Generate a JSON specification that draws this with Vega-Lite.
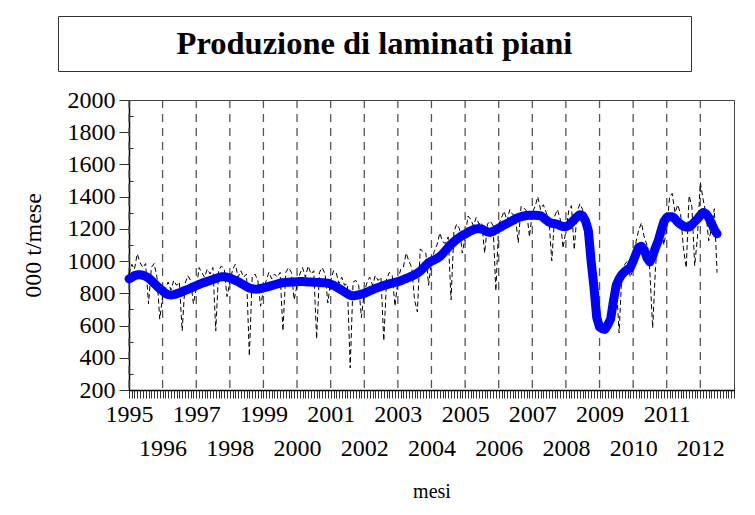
{
  "$schema": "https://vega.github.io/schema/vega-lite/v6.json",
  "background": "white",
  "padding": {"left": 17, "top": 15, "right": 5, "bottom": 5},
  "autosize": {"type": "pad"},
  "config": {"view": {"stroke": null}, "font": "Liberation Serif"},
  "spacing": 15,
  "datasets": {
    "years": [
      {"d": "1995-01-01"}, {"d": "1996-01-01"}, {"d": "1997-01-01"}, {"d": "1998-01-01"}, {"d": "1999-01-01"}, {"d": "2000-01-01"},
      {"d": "2001-01-01"}, {"d": "2002-01-01"}, {"d": "2003-01-01"}, {"d": "2004-01-01"}, {"d": "2005-01-01"}, {"d": "2006-01-01"},
      {"d": "2007-01-01"}, {"d": "2008-01-01"}, {"d": "2009-01-01"}, {"d": "2010-01-01"}, {"d": "2011-01-01"}, {"d": "2012-01-01"}
    ],
    "blank": [{"t": ""}],
    "series": [
      {"d":"1995-01-01","v":920,"t":890},{"d":"1995-02-01","v":980,"t":900},{"d":"1995-03-01","v":950,"t":910},{"d":"1995-04-01","v":1045,"t":915},{"d":"1995-05-01","v":990,"t":915},{"d":"1995-06-01","v":960,"t":912},{"d":"1995-07-01","v":985,"t":905},{"d":"1995-08-01","v":735,"t":895},{"d":"1995-09-01","v":960,"t":880},{"d":"1995-10-01","v":985,"t":862},{"d":"1995-11-01","v":900,"t":845},{"d":"1995-12-01","v":640,"t":830},
      {"d":"1996-01-01","v":780,"t":815},{"d":"1996-02-01","v":830,"t":800},{"d":"1996-03-01","v":870,"t":792},{"d":"1996-04-01","v":820,"t":790},{"d":"1996-05-01","v":880,"t":792},{"d":"1996-06-01","v":850,"t":797},{"d":"1996-07-01","v":870,"t":803},{"d":"1996-08-01","v":567,"t":810},{"d":"1996-09-01","v":860,"t":818},{"d":"1996-10-01","v":910,"t":825},{"d":"1996-11-01","v":880,"t":832},{"d":"1996-12-01","v":735,"t":840},
      {"d":"1997-01-01","v":830,"t":848},{"d":"1997-02-01","v":960,"t":855},{"d":"1997-03-01","v":930,"t":862},{"d":"1997-04-01","v":900,"t":868},{"d":"1997-05-01","v":950,"t":874},{"d":"1997-06-01","v":920,"t":880},{"d":"1997-07-01","v":960,"t":886},{"d":"1997-08-01","v":567,"t":892},{"d":"1997-09-01","v":940,"t":898},{"d":"1997-10-01","v":970,"t":903},{"d":"1997-11-01","v":950,"t":903},{"d":"1997-12-01","v":780,"t":900},
      {"d":"1998-01-01","v":870,"t":895},{"d":"1998-02-01","v":950,"t":888},{"d":"1998-03-01","v":980,"t":880},{"d":"1998-04-01","v":900,"t":872},{"d":"1998-05-01","v":940,"t":862},{"d":"1998-06-01","v":900,"t":852},{"d":"1998-07-01","v":920,"t":842},{"d":"1998-08-01","v":411,"t":833},{"d":"1998-09-01","v":900,"t":828},{"d":"1998-10-01","v":920,"t":826},{"d":"1998-11-01","v":880,"t":827},{"d":"1998-12-01","v":720,"t":830},
      {"d":"1999-01-01","v":820,"t":834},{"d":"1999-02-01","v":880,"t":838},{"d":"1999-03-01","v":930,"t":843},{"d":"1999-04-01","v":890,"t":848},{"d":"1999-05-01","v":920,"t":853},{"d":"1999-06-01","v":900,"t":858},{"d":"1999-07-01","v":930,"t":863},{"d":"1999-08-01","v":567,"t":866},{"d":"1999-09-01","v":930,"t":868},{"d":"1999-10-01","v":960,"t":869},{"d":"1999-11-01","v":930,"t":870},{"d":"1999-12-01","v":760,"t":871},
      {"d":"2000-01-01","v":850,"t":872},{"d":"2000-02-01","v":920,"t":873},{"d":"2000-03-01","v":960,"t":873},{"d":"2000-04-01","v":900,"t":872},{"d":"2000-05-01","v":970,"t":871},{"d":"2000-06-01","v":920,"t":870},{"d":"2000-07-01","v":940,"t":869},{"d":"2000-08-01","v":517,"t":868},{"d":"2000-09-01","v":930,"t":867},{"d":"2000-10-01","v":960,"t":866},{"d":"2000-11-01","v":920,"t":865},{"d":"2000-12-01","v":740,"t":863},
      {"d":"2001-01-01","v":880,"t":858},{"d":"2001-02-01","v":940,"t":850},{"d":"2001-03-01","v":930,"t":840},{"d":"2001-04-01","v":860,"t":830},{"d":"2001-05-01","v":900,"t":820},{"d":"2001-06-01","v":850,"t":808},{"d":"2001-07-01","v":860,"t":797},{"d":"2001-08-01","v":337,"t":788},{"d":"2001-09-01","v":870,"t":785},{"d":"2001-10-01","v":880,"t":787},{"d":"2001-11-01","v":850,"t":790},{"d":"2001-12-01","v":650,"t":795},
      {"d":"2002-01-01","v":810,"t":800},{"d":"2002-02-01","v":870,"t":808},{"d":"2002-03-01","v":900,"t":815},{"d":"2002-04-01","v":850,"t":822},{"d":"2002-05-01","v":910,"t":830},{"d":"2002-06-01","v":880,"t":836},{"d":"2002-07-01","v":900,"t":842},{"d":"2002-08-01","v":505,"t":848},{"d":"2002-09-01","v":890,"t":854},{"d":"2002-10-01","v":930,"t":859},{"d":"2002-11-01","v":910,"t":864},{"d":"2002-12-01","v":720,"t":868},
      {"d":"2003-01-01","v":880,"t":872},{"d":"2003-02-01","v":950,"t":878},{"d":"2003-03-01","v":960,"t":885},{"d":"2003-04-01","v":1050,"t":892},{"d":"2003-05-01","v":1000,"t":899},{"d":"2003-06-01","v":960,"t":907},{"d":"2003-07-01","v":760,"t":915},{"d":"2003-08-01","v":685,"t":925},{"d":"2003-09-01","v":1075,"t":938},{"d":"2003-10-01","v":1060,"t":955},{"d":"2003-11-01","v":1050,"t":973},{"d":"2003-12-01","v":850,"t":990},
      {"d":"2004-01-01","v":1000,"t":1000},{"d":"2004-02-01","v":1060,"t":1008},{"d":"2004-03-01","v":1100,"t":1016},{"d":"2004-04-01","v":1175,"t":1028},{"d":"2004-05-01","v":1120,"t":1045},{"d":"2004-06-01","v":1110,"t":1065},{"d":"2004-07-01","v":1150,"t":1085},{"d":"2004-08-01","v":760,"t":1105},{"d":"2004-09-01","v":1180,"t":1120},{"d":"2004-10-01","v":1230,"t":1135},{"d":"2004-11-01","v":1200,"t":1148},{"d":"2004-12-01","v":1050,"t":1160},
      {"d":"2005-01-01","v":1150,"t":1168},{"d":"2005-02-01","v":1280,"t":1178},{"d":"2005-03-01","v":1260,"t":1188},{"d":"2005-04-01","v":1220,"t":1195},{"d":"2005-05-01","v":1270,"t":1200},{"d":"2005-06-01","v":1230,"t":1202},{"d":"2005-07-01","v":1240,"t":1198},{"d":"2005-08-01","v":1050,"t":1190},{"d":"2005-09-01","v":1230,"t":1182},{"d":"2005-10-01","v":1250,"t":1178},{"d":"2005-11-01","v":1220,"t":1185},{"d":"2005-12-01","v":815,"t":1195},
      {"d":"2006-01-01","v":1230,"t":1205},{"d":"2006-02-01","v":1270,"t":1215},{"d":"2006-03-01","v":1310,"t":1225},{"d":"2006-04-01","v":1250,"t":1233},{"d":"2006-05-01","v":1320,"t":1242},{"d":"2006-06-01","v":1290,"t":1252},{"d":"2006-07-01","v":1280,"t":1262},{"d":"2006-08-01","v":1114,"t":1270},{"d":"2006-09-01","v":1340,"t":1276},{"d":"2006-10-01","v":1330,"t":1280},{"d":"2006-11-01","v":1310,"t":1283},{"d":"2006-12-01","v":1150,"t":1284},
      {"d":"2007-01-01","v":1300,"t":1284},{"d":"2007-02-01","v":1340,"t":1284},{"d":"2007-03-01","v":1400,"t":1283},{"d":"2007-04-01","v":1320,"t":1282},{"d":"2007-05-01","v":1350,"t":1270},{"d":"2007-06-01","v":1300,"t":1255},{"d":"2007-07-01","v":1260,"t":1242},{"d":"2007-08-01","v":1002,"t":1235},{"d":"2007-09-01","v":1280,"t":1232},{"d":"2007-10-01","v":1320,"t":1228},{"d":"2007-11-01","v":1260,"t":1220},{"d":"2007-12-01","v":1080,"t":1215},
      {"d":"2008-01-01","v":1190,"t":1215},{"d":"2008-02-01","v":1313,"t":1222},{"d":"2008-03-01","v":1344,"t":1240},{"d":"2008-04-01","v":1070,"t":1258},{"d":"2008-05-01","v":1300,"t":1275},{"d":"2008-06-01","v":1356,"t":1288},{"d":"2008-07-01","v":1320,"t":1282},{"d":"2008-08-01","v":1150,"t":1250},{"d":"2008-09-01","v":1180,"t":1189},{"d":"2008-10-01","v":1000,"t":1000},{"d":"2008-11-01","v":820,"t":840},{"d":"2008-12-01","v":640,"t":650},
      {"d":"2009-01-01","v":590,"t":590},{"d":"2009-02-01","v":600,"t":580},{"d":"2009-03-01","v":548,"t":577},{"d":"2009-04-01","v":640,"t":605},{"d":"2009-05-01","v":700,"t":640},{"d":"2009-06-01","v":800,"t":753},{"d":"2009-07-01","v":880,"t":850},{"d":"2009-08-01","v":554,"t":890},{"d":"2009-09-01","v":930,"t":918},{"d":"2009-10-01","v":980,"t":935},{"d":"2009-11-01","v":1000,"t":948},{"d":"2009-12-01","v":900,"t":960},
      {"d":"2010-01-01","v":950,"t":1000},{"d":"2010-02-01","v":1120,"t":1045},{"d":"2010-03-01","v":1190,"t":1085},{"d":"2010-04-01","v":1238,"t":1092},{"d":"2010-05-01","v":1150,"t":1070},{"d":"2010-06-01","v":1100,"t":1020},{"d":"2010-07-01","v":940,"t":995},{"d":"2010-08-01","v":585,"t":1030},{"d":"2010-09-01","v":960,"t":1085},{"d":"2010-10-01","v":1180,"t":1126},{"d":"2010-11-01","v":1230,"t":1190},{"d":"2010-12-01","v":1100,"t":1245},
      {"d":"2011-01-01","v":1200,"t":1271},{"d":"2011-02-01","v":1400,"t":1276},{"d":"2011-03-01","v":1420,"t":1276},{"d":"2011-04-01","v":1300,"t":1262},{"d":"2011-05-01","v":1350,"t":1242},{"d":"2011-06-01","v":1290,"t":1228},{"d":"2011-07-01","v":1083,"t":1218},{"d":"2011-08-01","v":958,"t":1211},{"d":"2011-09-01","v":1406,"t":1212},{"d":"2011-10-01","v":1340,"t":1225},{"d":"2011-11-01","v":971,"t":1245},{"d":"2011-12-01","v":1150,"t":1262},
      {"d":"2012-01-01","v":1487,"t":1285},{"d":"2012-02-01","v":1380,"t":1302},{"d":"2012-03-01","v":1300,"t":1295},{"d":"2012-04-01","v":1126,"t":1270},{"d":"2012-05-01","v":1200,"t":1235},{"d":"2012-06-01","v":1325,"t":1195},{"d":"2012-07-01","v":928,"t":1170}
    ]
  },
  "vconcat": [
    {
      "spacing": 39,
      "hconcat": [
        {
          "width": 1, "height": 55,
          "data": {"name": "blank"},
          "mark": {"type": "text"},
          "encoding": {"text": {"field": "t"}}
        },
        {
          "width": 633,
          "height": 55,
          "view": {"stroke": "#333", "strokeWidth": 1},
          "data": {"values": [{"t": "Produzione di laminati piani"}]},
          "mark": {"type": "text", "font": "Liberation Serif", "fontWeight": "bold", "fontSize": 32.5, "align": "center", "baseline": "middle", "color": "black"},
          "encoding": {"text": {"field": "t"}}
        }
      ]
    },
    {
      "spacing": 0,
      "hconcat": [
        {
          "width": 3, "height": 290,
          "data": {"name": "blank"},
          "mark": {"type": "text"},
          "encoding": {"text": {"field": "t"}}
        },
        {
          "width": 605,
          "height": 290,
          "view": {"stroke": "#444", "strokeWidth": 1},
          "resolve": {"scale": {"y": "shared"}, "axis": {"y": "independent"}},
          "layer": [
            {
              "data": {"name": "years"},
              "mark": {"type": "rule", "color": "#555", "strokeWidth": 1.3, "strokeDash": [8, 6]},
              "encoding": {
                "x": {
                  "field": "d", "type": "temporal",
                  "scale": {"type": "utc", "domain": [{"year": 1995, "month": 1, "date": 1, "utc": true}, {"year": 2013, "month": 1, "date": 1, "utc": true}]},
                  "title": "mesi",
                  "axis": {
                    "tickCount": {"interval": "month", "step": 1},
                    "tickSize": 8, "tickColor": "#333", "tickWidth": 1,
                    "domainColor": "#000", "domainWidth": 1.5,
                    "grid": false,
                    "labelExpr": "(utcmonth(datum.value) == 0 && utcyear(datum.value) < 2013) ? (utcyear(datum.value) % 2 == 1 ? [utcyear(datum.value) + ''] : ['', utcyear(datum.value) + '']) : ''",
                    "labelFont": "Liberation Serif", "labelFontSize": 24, "labelColor": "black",
                    "labelPadding": 4, "labelLineHeight": 34,
                    "labelOverlap": false, "labelFlush": false, "labelBound": false,
                    "labelAlign": "center", "labelBaseline": "top",
                    "titleFont": "Liberation Serif", "titleFontSize": 20, "titleFontWeight": "normal", "titleColor": "black", "titlePadding": 21
                  }
                }
              }
            },
            {
              "data": {"name": "series"},
              "mark": {"type": "line", "color": "black", "strokeWidth": 1, "strokeDash": [5, 3]},
              "encoding": {
                "x": {"field": "d", "type": "temporal"},
                "y": {
                  "field": "v", "type": "quantitative",
                  "scale": {"domain": [200, 2000], "nice": false, "zero": false},
                  "axis": {"orient": "left", "title": null, "labels": false, "domain": false, "grid": false, "values": [300, 500, 700, 900, 1100, 1300, 1500, 1700, 1900], "tickSize": -4, "tickColor": "#333", "tickWidth": 1}
                }
              }
            },
            {
              "data": {"name": "series"},
              "mark": {"type": "line", "color": "#0000ff", "strokeWidth": 9, "strokeCap": "round", "strokeJoin": "round"},
              "encoding": {
                "x": {"field": "d", "type": "temporal"},
                "y": {
                  "field": "t", "type": "quantitative",
                  "title": "000 t/mese",
                  "axis": {
                    "orient": "left",
                    "values": [200, 400, 600, 800, 1000, 1200, 1400, 1600, 1800, 2000],
                    "format": "d",
                    "tickSize": 10, "tickColor": "#333", "tickWidth": 1,
                    "domainColor": "#000", "domainWidth": 1.5, "grid": false,
                    "labelFont": "Liberation Serif", "labelFontSize": 24, "labelColor": "black", "labelPadding": 4,
                    "labelOverlap": false, "labelBound": false, "labelFlush": false,
                    "titleFont": "Liberation Serif", "titleFontSize": 24, "titleFontWeight": "normal", "titleColor": "black", "titlePadding": 22
                  }
                }
              }
            }
          ]
        }
      ]
    }
  ]
}
